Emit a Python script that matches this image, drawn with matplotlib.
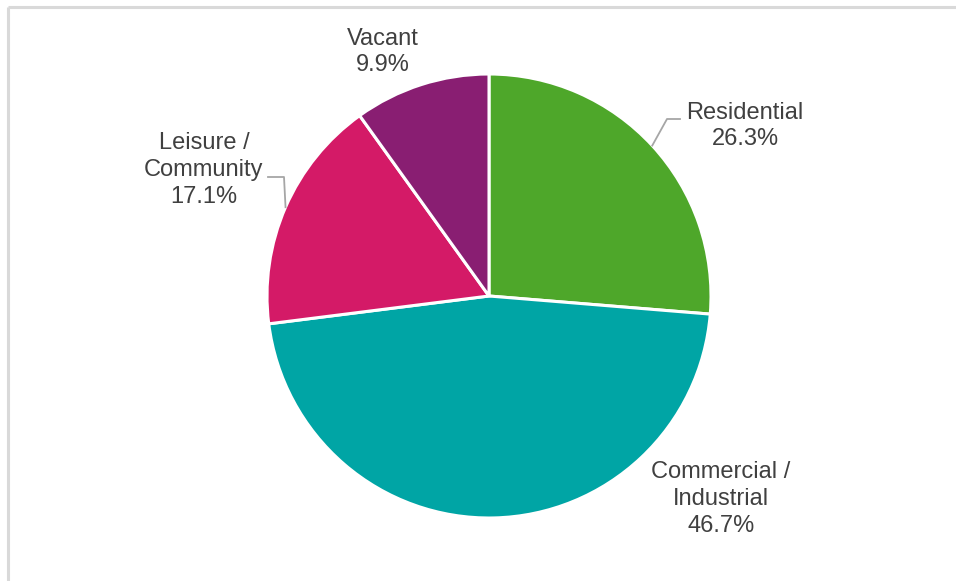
import matplotlib
matplotlib.use("Agg")
import matplotlib.pyplot as plt
import numpy as np

categories = ["Residential", "Commercial /\nIndustrial", "Leisure /\nCommunity", "Vacant"]
values = [26.3, 46.7, 17.1, 9.9]
colors = ["#4ea72a", "#00a5a5", "#d41a67", "#891e72"]

W, H = 956, 581
fig = plt.figure(figsize=(W / 100, H / 100), dpi=100)
ax = fig.add_axes([0, 0, 1, 1])
ax.set_xlim(0, W)
ax.set_ylim(0, H)
ax.set_aspect("equal")
ax.axis("off")

cx, cy, r = 489, H - 296, 222
wedges, _ = ax.pie(values, colors=colors, startangle=90, counterclock=False,
                   center=(cx, cy), radius=r, frame=True,
                   wedgeprops=dict(edgecolor="white", linewidth=2.2))
ax.set_xlim(0, W)
ax.set_ylim(0, H)
ax.axis("off")

# frame (top and left edges visible)
ax.plot([8, W], [H - 7, H - 7], color="#d9d9d9", lw=2.2, solid_capstyle="butt")
ax.plot([8, 8], [0, H - 7], color="#d9d9d9", lw=2.2, solid_capstyle="butt")

txt_color = "#404040"
font = dict(family=["Liberation Sans", "DejaVu Sans"], size=17, color=txt_color)
label_pos = [(745, 126), (721, 499), (204, 170), (383, 52)]
for (w, lab, v, (tx, ty)) in zip(wedges, categories, values, label_pos):
    ax.text(tx, H - ty, f"{lab}\n{v:.1f}%", ha="center", va="center",
            linespacing=1.28, **font)

def edge_point(w):
    ang = np.deg2rad((w.theta1 + w.theta2) / 2)
    return cx + r * np.cos(ang), cy + r * np.sin(ang)

# leader lines
ex, ey = edge_point(wedges[0])
ax.plot([ex, 667, 680], [ey, H - 119, H - 119], color="#a6a6a6", lw=1.3)
ex, ey = edge_point(wedges[2])
ax.plot([ex, 284, 268], [ey, H - 177, H - 177], color="#a6a6a6", lw=1.3)

fig.savefig("out.png", dpi=100, facecolor="white")
